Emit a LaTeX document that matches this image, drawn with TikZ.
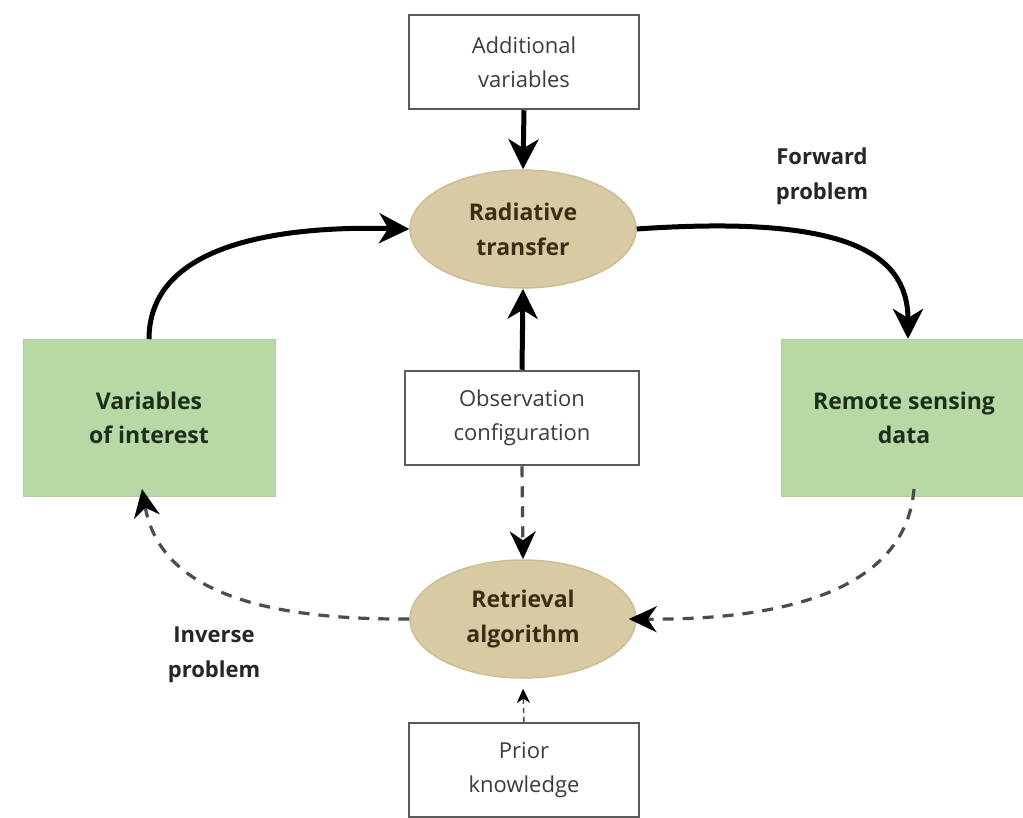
\documentclass[tikz,border=0pt]{standalone}
\usepackage{fontspec}
\setmainfont{Open Sans}
\usetikzlibrary{arrows.meta,shapes.geometric}
\definecolor{boxgreen}{HTML}{B6D9A6}
\definecolor{ellfill}{HTML}{D8CAA2}
\definecolor{ellline}{HTML}{CDBE98}
\definecolor{ellText}{HTML}{3A2E12}
\definecolor{greenText}{HTML}{1F2E1A}
\definecolor{boxline}{HTML}{5A5A5A}
\definecolor{txtgray}{HTML}{3C3C3C}
\tikzset{
  whitebox/.style={draw=boxline, line width=2.5pt, fill=white, minimum width=230pt, minimum height=94pt, align=center, text=txtgray, font=\fontsize{22}{34}\selectfont},
  greenbox/.style={fill=boxgreen, draw=boxgreen!85!gray, line width=1pt, minimum width=252pt, minimum height=157pt, align=center, text=greenText, font=\bfseries\fontsize{23}{34}\selectfont},
  ell/.style={ellipse, fill=ellfill, draw=ellline, line width=1.5pt, minimum width=226pt, minimum height=118pt, inner sep=0pt, align=center, text=ellText, font=\bfseries\fontsize{23}{35}\selectfont},
  solidarrow/.style={line width=5pt, -{Stealth[length=30pt,width=30pt,inset=9pt]}},
  dasharrow/.style={line width=3.2pt, draw=black!70, dash pattern=on 11pt off 9pt, -{Stealth[length=28pt,width=26pt,inset=9pt,color=black,fill=black]}},
  lbl/.style={align=center, font=\bfseries\fontsize{22}{35}\selectfont, text=black!85}
}
\begin{document}
\begin{tikzpicture}[x=1pt,y=-1pt]
\useasboundingbox (0,0) rectangle (1023,817);
\fill[white] (0,0) rectangle (1023,817);
\node[whitebox] (add) at (524,62) {Additional\\variables};
\node[ell] (rt) at (523,229) {Radiative\\transfer};
\node[greenbox] (voi) at (149,418) {Variables\\of interest};
\node[greenbox, minimum width=246pt] (rsd) at (904,418) {Remote sensing\\data};
\node[whitebox, minimum width=234pt] (obs) at (522,418) {Observation\\configuration};
\node[ell] (ra) at (523,619) {Retrieval\\algorithm};
\node[whitebox] (prior) at (524,770) {Prior\\knowledge};
\node[lbl] (fwd) at (822,176) {Forward\\problem};
\node[lbl] (inv) at (214,655) {Inverse\\problem};
\draw[solidarrow] (add.south) -- (rt.north);
\draw[solidarrow] (obs.north) -- (rt.south);
\draw[solidarrow] (voi.north) .. controls (149,240) and (290,226) .. (rt.west);
\draw[solidarrow] (rt.east) .. controls (840,215) and (908,250) .. ([xshift=4pt]rsd.north);
\draw[dasharrow] (obs.south) -- (ra.north);
\draw[dasharrow, line width=1.5pt, dash pattern=on 5pt off 4pt, -{Stealth[length=14pt,width=13pt,inset=4pt,color=black,fill=black]}] (prior.north) -- ([yshift=-10pt]ra.south);
\draw[dasharrow] ([xshift=10pt,yshift=8pt]rsd.south) .. controls (905,600) and (760,620) .. ([xshift=-8pt]ra.east);
\draw[dasharrow] (ra.west) .. controls (260,620) and (160,590) .. ([xshift=-7pt,yshift=8pt]voi.south);
\end{tikzpicture}
\end{document}
